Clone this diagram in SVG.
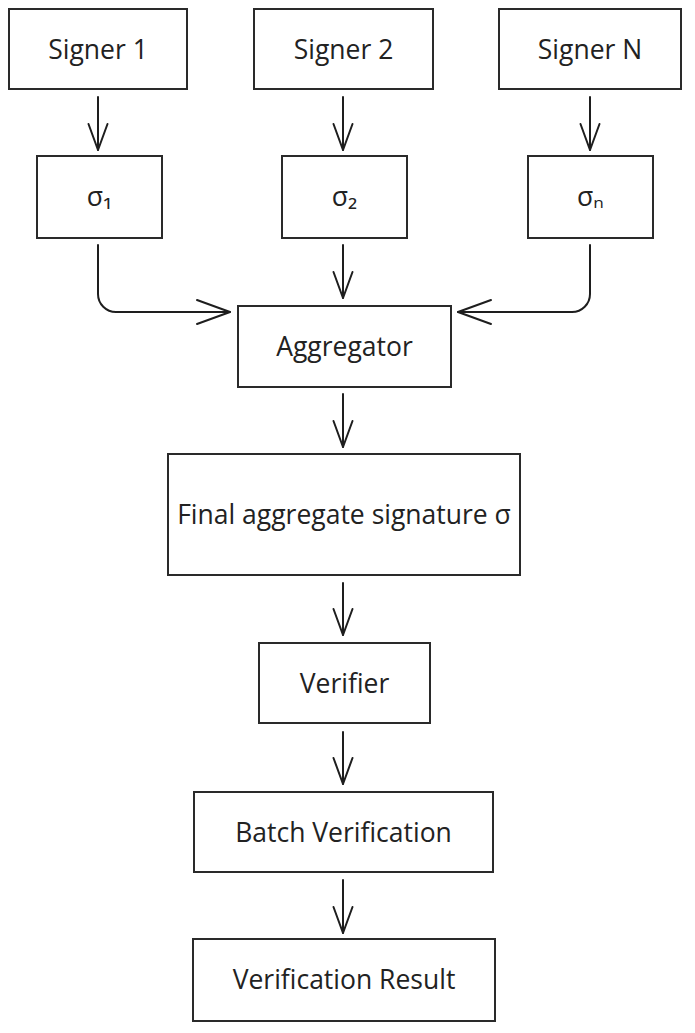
<svg xmlns="http://www.w3.org/2000/svg" width="695" height="1033" viewBox="0 0 695 1033">
  <style>
    .box { fill: #ffffff; stroke: #2a2a2a; stroke-width: 2; }
    .lbl { font-family: "Open Sans", "Noto Sans", "DejaVu Sans", sans-serif; font-size: 26.5px; fill: #222222; text-anchor: middle; }
    .edge { fill: none; stroke: #1e1e1e; stroke-width: 2; stroke-linecap: round; stroke-linejoin: round; }
    .head { fill: none; stroke: #1e1e1e; stroke-width: 2; stroke-linecap: round; stroke-linejoin: round; }
  </style>
  <defs>
    <marker id="arrowV" viewBox="-2 -12 30 24" markerWidth="30" markerHeight="24" refX="26" refY="0" orient="auto" markerUnits="userSpaceOnUse">
      <path class="head" d="M0,-9.5 L26,0 L0,9.5"/>
    </marker>
    <marker id="arrowH" viewBox="-2 -15 37 30" markerWidth="37" markerHeight="30" refX="33" refY="0" orient="auto" markerUnits="userSpaceOnUse">
      <path class="head" d="M0,-12 L33,0 L0,12"/>
    </marker>
  </defs>
  <rect width="695" height="1033" fill="#ffffff"/>

  <g id="connectors">
    <path class="edge" d="M98,97 V150" marker-end="url(#arrowV)"/>
    <path class="edge" d="M343,97 V150" marker-end="url(#arrowV)"/>
    <path class="edge" d="M590,97 V150" marker-end="url(#arrowV)"/>
    <path class="edge" d="M98,245 V294 A18,18 0 0 0 116,312 H230" marker-end="url(#arrowH)"/>
    <path class="edge" d="M343,245 V298" marker-end="url(#arrowV)"/>
    <path class="edge" d="M590,245 V294 A18,18 0 0 1 572,312 H458" marker-end="url(#arrowH)"/>
    <path class="edge" d="M343,394 V447" marker-end="url(#arrowV)"/>
    <path class="edge" d="M343,583 V635" marker-end="url(#arrowV)"/>
    <path class="edge" d="M343,732 V784" marker-end="url(#arrowV)"/>
    <path class="edge" d="M343,880 V933" marker-end="url(#arrowV)"/>
  </g>

  <g id="signer1">
    <rect class="box" x="9" y="9" width="178" height="80"/>
    <text class="lbl" x="98" y="58.5">Signer 1</text>
  </g>
  <g id="signer2">
    <rect class="box" x="254" y="9" width="179" height="80"/>
    <text class="lbl" x="343.5" y="58.5">Signer 2</text>
  </g>
  <g id="signerN">
    <rect class="box" x="499" y="9" width="182" height="80"/>
    <text class="lbl" x="590" y="58.5">Signer N</text>
  </g>
  <g id="sigma1">
    <rect class="box" x="37" y="156" width="125" height="82"/>
    <text class="lbl" x="99.5" y="206">σ₁</text>
  </g>
  <g id="sigma2">
    <rect class="box" x="282" y="156" width="125" height="82"/>
    <text class="lbl" x="344.5" y="206">σ₂</text>
  </g>
  <g id="sigmaN">
    <rect class="box" x="528" y="156" width="125" height="82"/>
    <text class="lbl" x="590.5" y="206">σₙ</text>
  </g>
  <g id="aggregator">
    <rect class="box" x="238" y="306" width="213" height="81"/>
    <text class="lbl" x="344.5" y="356">Aggregator</text>
  </g>
  <g id="final">
    <rect class="box" x="168" y="454" width="352" height="121"/>
    <text class="lbl" x="344" y="524">Final aggregate signature σ</text>
  </g>
  <g id="verifier">
    <rect class="box" x="259" y="643" width="171" height="80"/>
    <text class="lbl" x="344.5" y="692.5">Verifier</text>
  </g>
  <g id="batch">
    <rect class="box" x="194" y="792" width="299" height="80"/>
    <text class="lbl" x="343.5" y="841.5">Batch Verification</text>
  </g>
  <g id="result">
    <rect class="box" x="193" y="939" width="302" height="82"/>
    <text class="lbl" x="344" y="989">Verification Result</text>
  </g>
</svg>
